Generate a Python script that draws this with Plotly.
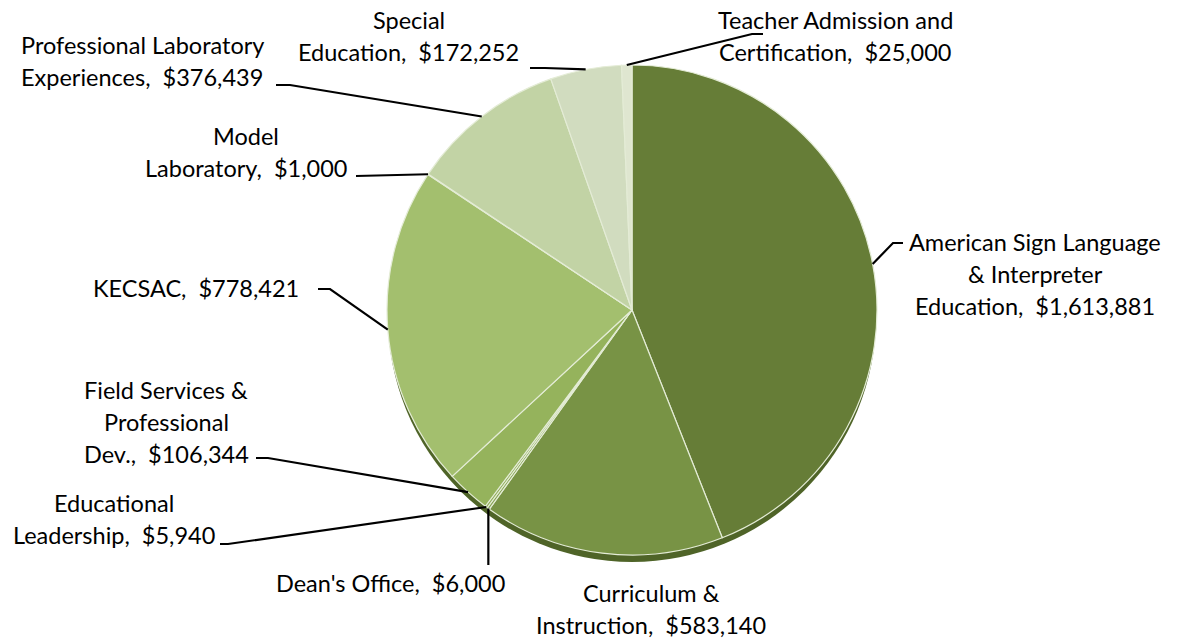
import math
import plotly.graph_objects as go

# ---- data ----
categories = [
    "American Sign Language & Interpreter Education",
    "Curriculum & Instruction",
    "Dean's Office",
    "Educational Leadership",
    "Field Services & Professional Dev.",
    "KECSAC",
    "Model Laboratory",
    "Professional Laboratory Experiences",
    "Special Education",
    "Teacher Admission and Certification",
]
values = [1613881, 583140, 6000, 5940, 106344, 778421, 1000, 376439, 172252, 25000]
label_lines = [
    ["American Sign Language", "& Interpreter", "Education,"],
    ["Curriculum &", "Instruction,"],
    ["Dean's Office,"],
    ["Educational", "Leadership,"],
    ["Field Services &", "Professional", "Dev.,"],
    ["KECSAC,"],
    ["Model", "Laboratory,"],
    ["Professional Laboratory", "Experiences,"],
    ["Special", "Education,"],
    ["Teacher Admission and", "Certification,"],
]
colors = ["#667d37", "#789345", "#86a352", "#8fad58", "#95b35c",
          "#a3bf6e", "#b5cc8e", "#c2d3a5", "#d1dcbf", "#dfe6d0"]

# ---- layout (pixels) ----
W, H = 1180, 638
CX, CY, R = 632, 310, 245
FONT = "Lato"
FS = 23.5
LINE_H = 32

# label centre x and first-line y (pixels)
label_pos = [(1035, 242), (651, 593), (390, 583), (114, 503), (166, 390),
             (196, 288), (246, 136), (142, 45), (409, 20), (835, 20)]
# leader line intermediate points (pixels); None means no leader
leader_pts = [
    [(893, 243), (903, 243)],
    None,
    [("same_x", 565)],
    [(228, 544), (220, 544)],
    [(268, 458), (256, 458)],
    [(330, 289), (318, 289)],
    [(356, 176)],
    [(290, 85), (276, 85)],
    [(545, 68), (530, 68)],
    [(752, 34), (763, 34)],
]


def px(x):
    return x / W


def py(y):
    return 1 - y / H


fig = go.Figure()

# 3D rim / shadow beneath the pie
fig.add_shape(type="circle", xref="paper", yref="paper",
              x0=px(CX - R + 1), x1=px(CX + R - 1),
              y0=py(CY + R + 7), y1=py(CY - R + 7),
              fillcolor="#4f6428", line=dict(width=0), layer="below")

fig.add_trace(go.Pie(
    labels=categories,
    values=values,
    sort=False,
    direction="clockwise",
    rotation=0,
    textinfo="none",
    hoverinfo="label+value",
    marker=dict(colors=colors, line=dict(color="#e4ecd6", width=1.2)),
    domain=dict(x=[px(CX - R), px(CX + R)], y=[py(CY + R), py(CY - R)]),
    showlegend=False,
))

total = sum(values)
cum = 0
for i, v in enumerate(values):
    mid = (cum + v / 2) / total * 2 * math.pi
    cum += v
    ex = CX + R * math.sin(mid)
    ey = CY - R * math.cos(mid)
    # label text
    lines = list(label_lines[i])
    lines[-1] = lines[-1] + "\u00a0 ${:,}".format(v)
    lx, ly = label_pos[i]
    for k, t in enumerate(lines):
        fig.add_annotation(x=px(lx), y=py(ly + k * LINE_H), xref="paper", yref="paper",
                           text=t, showarrow=False, xanchor="center", yanchor="middle",
                           font=dict(family=FONT, size=FS, color="#000000"))
    # leader line
    pts = leader_pts[i]
    if pts is None:
        continue
    path_pts = [(ex, ey)]
    for p in pts:
        if p[0] == "same_x":
            path_pts.append((ex, p[1]))
        else:
            path_pts.append(p)
    d = "M {} {}".format(px(path_pts[0][0]), py(path_pts[0][1]))
    for (x, y) in path_pts[1:]:
        d += " L {} {}".format(px(x), py(y))
    fig.add_shape(type="path", path=d, xref="paper", yref="paper",
                  line=dict(color="#000000", width=2.2))

fig.update_layout(
    width=W, height=H,
    margin=dict(l=0, r=0, t=0, b=0),
    paper_bgcolor="#ffffff",
    plot_bgcolor="#ffffff",
    font=dict(family=FONT),
)

fig.write_html("out.html", config={"displayModeBar": False},
               post_script="document.body.style.margin='0px';document.body.style.overflow='hidden';")
